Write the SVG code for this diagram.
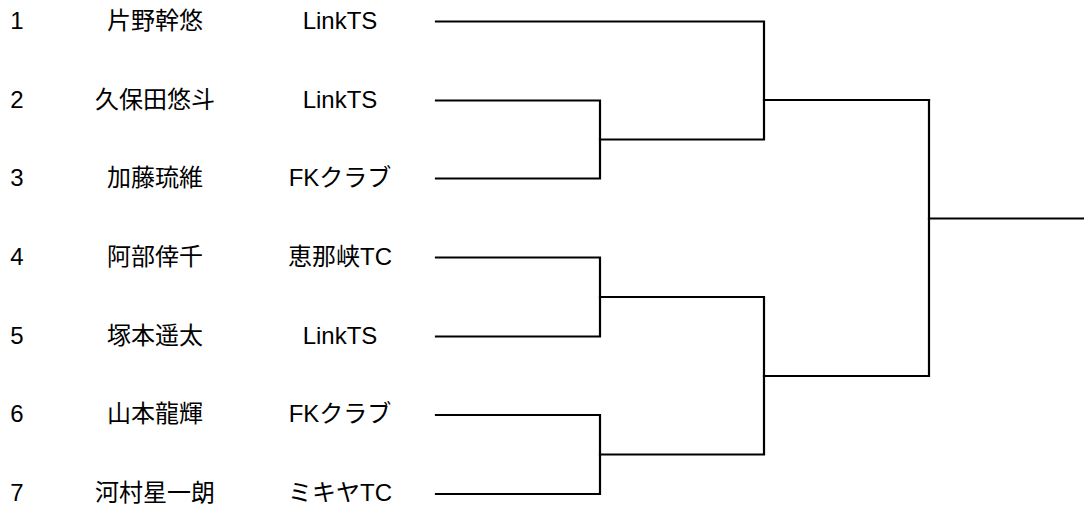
<svg xmlns="http://www.w3.org/2000/svg" width="1084" height="510" viewBox="0 0 1084 510">
  <style>
    text { font-family: "Liberation Sans", Arial, "Noto Sans CJK JP", sans-serif; font-size: 24px; fill: #000; text-anchor: middle; }
    .ln { fill: none; stroke: #000; stroke-width: 2.2; stroke-linecap: square; stroke-linejoin: miter; }
  </style>
  <rect width="1084" height="510" fill="#fff"/>
  <g id="player1"><text x="17" y="28.5">1</text><text x="155" y="28.5">片野幹悠</text><text x="340" y="28.5">LinkTS</text></g>
  <g id="player2"><text x="17" y="107.5">2</text><text x="155" y="107.5">久保田悠斗</text><text x="340" y="107.5">LinkTS</text></g>
  <g id="player3"><text x="17" y="186">3</text><text x="155" y="186">加藤琉維</text><text x="340" y="186">FKクラブ</text></g>
  <g id="player4"><text x="17" y="264.5">4</text><text x="155" y="264.5">阿部倖千</text><text x="340" y="264.5">恵那峡TC</text></g>
  <g id="player5"><text x="17" y="343.5">5</text><text x="155" y="343.5">塚本遥太</text><text x="340" y="343.5">LinkTS</text></g>
  <g id="player6"><text x="17" y="422">6</text><text x="155" y="422">山本龍輝</text><text x="340" y="422">FKクラブ</text></g>
  <g id="player7"><text x="17" y="501">7</text><text x="155" y="501">河村星一朗</text><text x="340" y="501">ミキヤTC</text></g>
  <g id="connectors">
    <path class="ln" d="M436 21.5 H764 V100"/>
    <path class="ln" d="M436 100.5 H600 V178.5 H436"/>
    <path class="ln" d="M600 139.5 H764 V100 H929"/>
    <path class="ln" d="M436 257.5 H600 V336.5 H436"/>
    <path class="ln" d="M436 415 H600 V494 H436"/>
    <path class="ln" d="M600 297 H764 V454.5 H600"/>
    <path class="ln" d="M764 376 H929 V100"/>
    <path class="ln" d="M929 218.5 H1084"/>
  </g>
</svg>
